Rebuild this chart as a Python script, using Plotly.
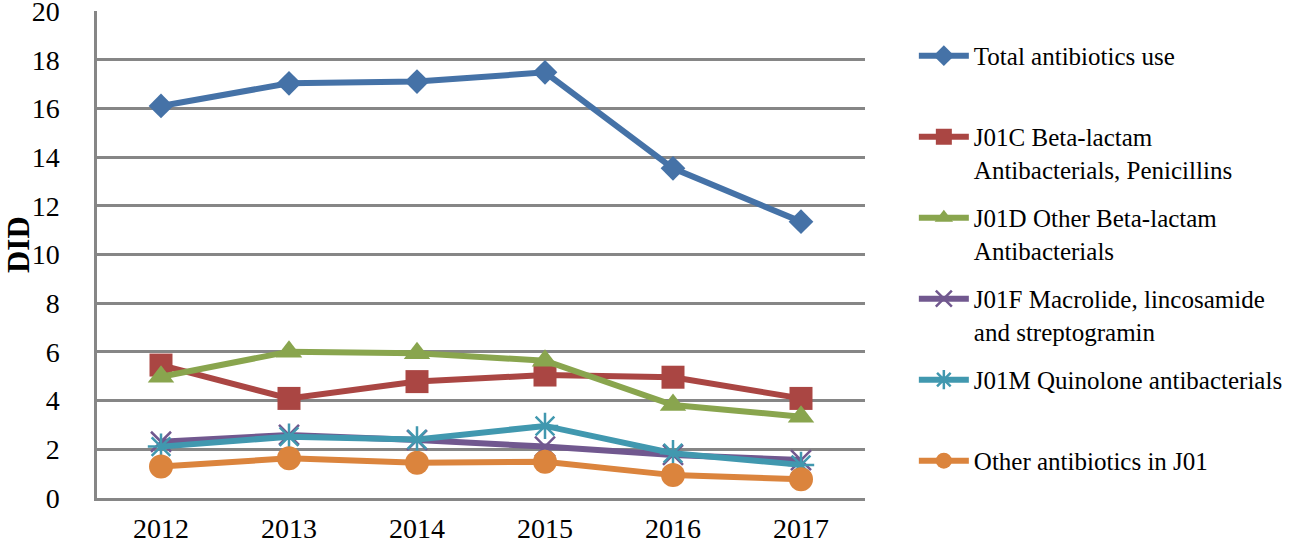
'''
Antibiotic use (DID) by year and ATC group
'''

import plotly.graph_objects as go

years = ['2012', '2013', '2014', '2015', '2016', '2017']

total_use = [16.1, 17.03, 17.1, 17.48, 13.54, 11.35]
j01c_penicillins = [5.46, 4.09, 4.78, 5.05, 4.96, 4.09]
j01d_other_beta = [4.98, 6.01, 5.94, 5.64, 3.82, 3.34]
j01f_macrolide = [2.31, 2.59, 2.38, 2.11, 1.77, 1.56]
j01m_quinolone = [2.11, 2.52, 2.4, 2.96, 1.84, 1.36]
other_j01 = [1.29, 1.63, 1.45, 1.49, 0.94, 0.77]

# trailing blank line keeps every legend entry the same height, as in the original
series_names = [
    'Total antibiotics use<br> ',
    'J01C Beta-lactam<br>Antibacterials, Penicillins',
    'J01D Other Beta-lactam<br>Antibacterials',
    'J01F Macrolide, lincosamide<br>and streptogramin',
    'J01M Quinolone antibacterials<br> ',
    'Other antibiotics in J01<br> ',
]
series_values = [total_use, j01c_penicillins, j01d_other_beta,
                 j01f_macrolide, j01m_quinolone, other_j01]

colors = ['#4572A7', '#AA4643', '#89A54E', '#71588F', '#4198AF', '#DB843D']
symbols = ['diamond', 'square', 'triangle-up', 'x-thin-open', 'asterisk-open', 'circle']
sizes = [19, 23, 23, 20, 22, 24]

fig = go.Figure()
for i, (name, vals) in enumerate(zip(series_names, series_values)):
    marker = dict(symbol=symbols[i], size=sizes[i], color=colors[i])
    if symbols[i].endswith('-open'):
        marker['line'] = dict(color=colors[i], width=2.5)
    fig.add_trace(go.Scatter(
        x=years, y=vals, name=name, mode='lines+markers',
        line=dict(color=colors[i], width=6),
        marker=marker,
        legendgroup=str(i),
    ))

fig.update_layout(
    width=1299, height=544,
    margin=dict(l=97, r=431, t=11, b=46),
    paper_bgcolor='white', plot_bgcolor='white',
    font=dict(family='Liberation Serif, Times New Roman, serif', size=28, color='black'),
    showlegend=True,
    legend=dict(
        x=1.0636, xanchor='left', y=0.955, yanchor='top',
        font=dict(size=25), valign='top',
        tracegroupgap=13, itemwidth=50, maxheight=544,
        bgcolor='rgba(0,0,0,0)',
    ),
    annotations=[dict(
        text='<b>DID</b>', textangle=-90, showarrow=False,
        xref='paper', yref='paper', x=-0.1025, y=0.52,
        xanchor='center', yanchor='middle', font=dict(size=31),
    )],
)

fig.update_xaxes(
    type='category', range=[-0.5, 5.5], automargin=False,
    showline=True, linecolor='#868686', linewidth=2.5,
    showgrid=False, ticks='', ticklabelstandoff=4,
    ticklabeloverflow='allow',
)
fig.update_yaxes(
    range=[0, 20], dtick=2, automargin=False,
    showline=True, linecolor='#868686', linewidth=2.5,
    showgrid=True, gridcolor='#868686', gridwidth=2.5,
    zeroline=False, ticks='', ticklabelstandoff=29,
    ticklabeloverflow='allow',
)

page_fix = (
    "document.body.style.margin='0';"
    "document.documentElement.style.overflow='hidden';"
    "document.body.style.overflow='hidden';"
)
fig.write_html('out.html', config={'displayModeBar': False}, post_script=page_fix)
